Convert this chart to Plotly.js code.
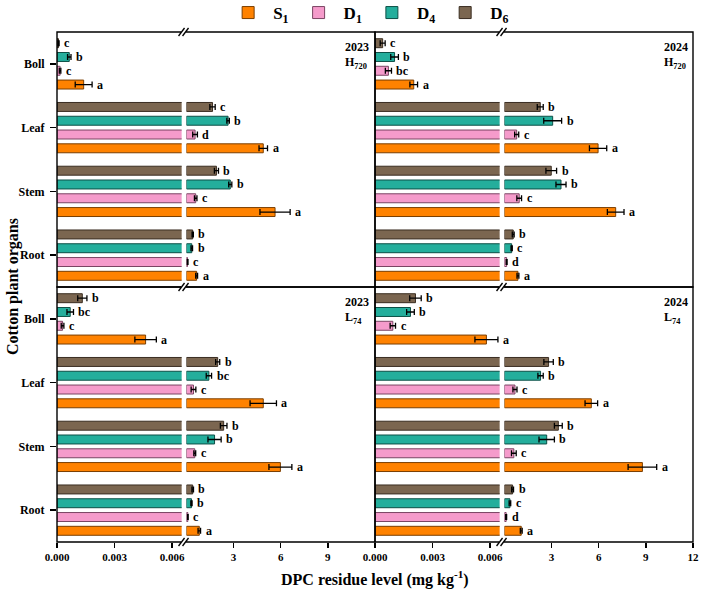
<!DOCTYPE html>
<html>
<head>
<meta charset="utf-8">
<script src="https://cdn.plot.ly/plotly-3.0.1.min.js"></script>
<style>html,body{margin:0;padding:0;background:#fff;}#chart{width:707px;height:595px;}</style>
</head>
<body>
<div id="chart"></div>
<script>
// ---------- data ----------
const organs = ['Root', 'Stem', 'Leaf', 'Boll'];
const seriesNames = ['S<sub>1</sub>', 'D<sub>1</sub>', 'D<sub>4</sub>', 'D<sub>6</sub>'];
const seriesColors = ['#FF8200', '#F59BCB', '#24AE9C', '#7B6650'];
const seriesEdges = ['#7A3E00', '#7A4563', '#0C4F46', '#3A2D21'];

// values in mg/kg, order: Root, Stem, Leaf, Boll
// 2023 H720
const H2023_S1 = [0.65, 5.64, 4.89, 0.00139];
const H2023_D1 = [0.07, 0.59, 0.55, 0.00016];
const H2023_D4 = [0.34, 2.79, 2.65, 0.00064];
const H2023_D6 = [0.40, 1.91, 1.66, 0.00008];
const H2023_S1_err = [0.06, 0.96, 0.27, 0.00044];
const H2023_D1_err = [0.03, 0.08, 0.15, 0.00004];
const H2023_D4_err = [0.05, 0.10, 0.08, 0.00009];
const H2023_D6_err = [0.04, 0.13, 0.17, 0.00003];
const H2023_S1_sig = ['a', 'a', 'a', 'a'];
const H2023_D1_sig = ['c', 'c', 'd', 'c'];
const H2023_D4_sig = ['b', 'b', 'b', 'b'];
const H2023_D6_sig = ['b', 'b', 'c', 'c'];

// 2024 H720
const H2024_S1 = [0.86, 7.08, 5.96, 0.00202];
const H2024_D1 = [0.14, 0.94, 0.78, 0.00070];
const H2024_D4 = [0.46, 3.60, 3.07, 0.00102];
const H2024_D6 = [0.56, 2.98, 2.28, 0.00040];
const H2024_S1_err = [0.06, 0.53, 0.55, 0.00020];
const H2024_D1_err = [0.03, 0.15, 0.13, 0.00016];
const H2024_D4_err = [0.04, 0.32, 0.57, 0.00020];
const H2024_D6_err = [0.06, 0.34, 0.19, 0.00013];
const H2024_S1_sig = ['a', 'a', 'a', 'a'];
const H2024_D1_sig = ['d', 'c', 'c', 'bc'];
const H2024_D4_sig = ['c', 'b', 'b', 'b'];
const H2024_D6_sig = ['b', 'b', 'b', 'c'];

// 2023 L74
const L2023_S1 = [0.82, 5.98, 4.89, 0.00462];
const L2023_D1 = [0.09, 0.53, 0.45, 0.00029];
const L2023_D4 = [0.32, 1.79, 1.43, 0.00069];
const L2023_D6 = [0.40, 2.37, 1.99, 0.00132];
const L2023_S1_err = [0.08, 0.73, 0.84, 0.00056];
const L2023_D1_err = [0.02, 0.06, 0.15, 0.00007];
const L2023_D4_err = [0.04, 0.42, 0.17, 0.00017];
const L2023_D6_err = [0.05, 0.21, 0.13, 0.00024];
const L2023_S1_sig = ['a', 'a', 'a', 'a'];
const L2023_D1_sig = ['c', 'c', 'c', 'c'];
const L2023_D4_sig = ['b', 'b', 'bc', 'bc'];
const L2023_D6_sig = ['b', 'b', 'b', 'b'];

// 2024 L74
const L2024_S1 = [1.07, 8.78, 5.53, 0.00581];
const L2024_D1 = [0.11, 0.60, 0.67, 0.00093];
const L2024_D4 = [0.35, 2.69, 2.30, 0.00185];
const L2024_D6 = [0.52, 3.43, 2.81, 0.00211];
const L2024_S1_err = [0.06, 0.91, 0.40, 0.00060];
const L2024_D1_err = [0.03, 0.15, 0.13, 0.00014];
const L2024_D4_err = [0.05, 0.49, 0.17, 0.00020];
const L2024_D6_err = [0.06, 0.25, 0.30, 0.00030];
const L2024_S1_sig = ['a', 'a', 'a', 'a'];
const L2024_D1_sig = ['d', 'c', 'c', 'c'];
const L2024_D4_sig = ['c', 'b', 'b', 'b'];
const L2024_D6_sig = ['b', 'b', 'b', 'b'];

const lowTicks = [0, 0.003, 0.006];
const lowTickText = ['0.000', '0.003', '0.006'];
const highTicksLeft = [3, 6, 9];
const highTicksRight = [3, 6, 9, 12];

// ---------- layout constants ----------
const BRK = 0.0065;     // end of the lower (broken) segment
const HIGH_MAX = 12;
const BARGAP = 0.135;
const FONT = 'Liberation Serif, Times New Roman, serif';

const panels = [
  {vals: [H2023_S1, H2023_D1, H2023_D4, H2023_D6], errs: [H2023_S1_err, H2023_D1_err, H2023_D4_err, H2023_D6_err],
   sigs: [H2023_S1_sig, H2023_D1_sig, H2023_D4_sig, H2023_D6_sig], xl: 'x', xu: 'x2', y: 'y', year: '2023', cult: 'H<sub>720</sub>'},
  {vals: [H2024_S1, H2024_D1, H2024_D4, H2024_D6], errs: [H2024_S1_err, H2024_D1_err, H2024_D4_err, H2024_D6_err],
   sigs: [H2024_S1_sig, H2024_D1_sig, H2024_D4_sig, H2024_D6_sig], xl: 'x3', xu: 'x4', y: 'y2', year: '2024', cult: 'H<sub>720</sub>'},
  {vals: [L2023_S1, L2023_D1, L2023_D4, L2023_D6], errs: [L2023_S1_err, L2023_D1_err, L2023_D4_err, L2023_D6_err],
   sigs: [L2023_S1_sig, L2023_D1_sig, L2023_D4_sig, L2023_D6_sig], xl: 'x5', xu: 'x6', y: 'y3', year: '2023', cult: 'L<sub>74</sub>'},
  {vals: [L2024_S1, L2024_D1, L2024_D4, L2024_D6], errs: [L2024_S1_err, L2024_D1_err, L2024_D4_err, L2024_D6_err],
   sigs: [L2024_S1_sig, L2024_D1_sig, L2024_D4_sig, L2024_D6_sig], xl: 'x7', xu: 'x8', y: 'y4', year: '2024', cult: 'L<sub>74</sub>'}
];

const organIdx = organs.map((_, i) => i);
const traces = [];
const annotations = [];
const slot = (1 - BARGAP) / seriesNames.length;

panels.forEach((p, pi) => {
  p.vals.forEach((vals, si) => {
    const errs = p.errs[si];
    const base = {
      type: 'bar', orientation: 'h', y: organIdx, name: seriesNames[si],
      marker: {color: seriesColors[si], line: {color: seriesEdges[si], width: 1}},
      yaxis: p.y, hoverinfo: 'skip'
    };
    // lower segment
    traces.push(Object.assign({}, base, {
      x: vals, xaxis: p.xl, legendgroup: 's' + si, showlegend: pi === 0,
      error_x: {type: 'data', array: vals.map((v, k) => v <= BRK ? errs[k] : null), color: '#000', thickness: 1.3, width: 3, visible: true}
    }));
    // upper segment
    traces.push(Object.assign({}, base, {
      x: vals.map(v => v > BRK ? v : null), xaxis: p.xu, legendgroup: 's' + si, showlegend: false,
      error_x: {type: 'data', array: vals.map((v, k) => v > BRK ? errs[k] : null), color: '#000', thickness: 1.3, width: 3, visible: true}
    }));
    vals.forEach((v, k) => {
      annotations.push({
        x: v + errs[k], y: k + (si - 1.5) * slot,
        xref: v > BRK ? p.xu : p.xl, yref: p.y,
        text: p.sigs[si][k], showarrow: false, xanchor: 'left', yanchor: 'middle', xshift: 3,
        font: {family: FONT, size: 12, color: '#000', weight: 'bold'}
      });
    });
  });
});

// ---------- axes ----------
const lowDom = [0, 0.196], highDom = [0.2035, 0.5];
const tickFont = {family: FONT, size: 11, color: '#000', weight: 'bold'};
function xAx(dom, off, range, anchor, bottom, tv, tt) {
  const a = {domain: [dom[0] + off, dom[1] + off], range: range, anchor: anchor, showgrid: false, zeroline: false,
    showline: false, fixedrange: true};
  if (bottom) {
    Object.assign(a, {ticks: 'outside', ticklen: 5, tickwidth: 1.3, tickcolor: '#000', tickvals: tv, ticktext: tt,
      tickfont: tickFont, showticklabels: true});
  } else {
    Object.assign(a, {ticks: '', showticklabels: false});
  }
  return a;
}
function yAx(dom, anchor, left) {
  const a = {domain: dom, anchor: anchor, range: [-0.5, organs.length - 0.5], showgrid: false, zeroline: false,
    showline: false, fixedrange: true, tickvals: organIdx, ticktext: organs};
  if (left) {
    Object.assign(a, {ticks: 'outside', ticklen: 6, tickwidth: 1.3, tickcolor: '#000',
      tickfont: {family: FONT, size: 12, color: '#000', weight: 'bold'}, ticklabelstandoff: 3});
  } else {
    Object.assign(a, {ticks: '', showticklabels: false});
  }
  return a;
}

// ---------- frames & break marks ----------
const PX = 1 / 636.5, PY = 1 / 510;
const shapes = [];
[[0, 0.5], [0.5, 1]].forEach(xd => [[0, 0.5], [0.5, 1]].forEach(yd => {
  shapes.push({type: 'rect', xref: 'paper', yref: 'paper', x0: xd[0], x1: xd[1], y0: yd[0], y1: yd[1],
    line: {color: '#000', width: 1.4}, fillcolor: 'rgba(0,0,0,0)', layer: 'above'});
}));
[(lowDom[1] + highDom[0]) / 2, 0.5 + (lowDom[1] + highDom[0]) / 2].forEach(xc => [0, 0.5, 1].forEach(yc => {
  shapes.push({type: 'line', xref: 'paper', yref: 'paper', x0: xc - 3 * PX, x1: xc + 2 * PX, y0: yc, y1: yc,
    line: {color: '#fff', width: 3}, layer: 'above'});
  [-2.5, 1.5].forEach(d => shapes.push({type: 'line', xref: 'paper', yref: 'paper',
    x0: xc + (d - 3) * PX, x1: xc + (d + 3) * PX, y0: yc - 4 * PY, y1: yc + 4 * PY,
    line: {color: '#000', width: 1.3}, layer: 'above'}));
}));

// ---------- panel labels ----------
const labelPos = [[0.4498, 1], [0.951, 1], [0.4498, 0.5], [0.951, 0.5]];
panels.forEach((p, i) => {
  const [lx, ly] = labelPos[i];
  annotations.push({xref: 'paper', yref: 'paper', x: lx, y: ly - 15 * PY, text: p.year, showarrow: false,
    xanchor: 'left', yanchor: 'middle', font: {family: FONT, size: 12, color: '#000', weight: 'bold'}});
  annotations.push({xref: 'paper', yref: 'paper', x: lx, y: ly - 31 * PY, text: p.cult, showarrow: false,
    xanchor: 'left', yanchor: 'middle', font: {family: FONT, size: 12, color: '#000', weight: 'bold'}});
});
// axis titles
annotations.push({xref: 'paper', yref: 'paper', x: 0.5, y: -36 * PY, text: 'DPC residue level (mg kg<sup>-1</sup>)',
  showarrow: false, xanchor: 'center', yanchor: 'middle', font: {family: FONT, size: 16, color: '#000', weight: 'bold'}});
annotations.push({xref: 'paper', yref: 'paper', x: -44 * PX, y: 0.5, text: 'Cotton plant organs', textangle: -90,
  showarrow: false, xanchor: 'center', yanchor: 'middle', font: {family: FONT, size: 16, color: '#000', weight: 'bold'}});

const layout = {
  width: 707, height: 595,
  margin: {l: 57, r: 13.5, t: 32, b: 53, autoexpand: false},
  paper_bgcolor: '#fff', plot_bgcolor: '#fff',
  barmode: 'group', bargap: BARGAP, bargroupgap: 0.35,
  showlegend: true,
  legend: {orientation: 'h', x: 0.49, xanchor: 'center', y: 1 + 19 * PY, yanchor: 'middle',
    font: {family: FONT, size: 17, color: '#000', weight: 'bold'}, itemwidth: 40, traceorder: 'normal',
    bgcolor: 'rgba(0,0,0,0)'},
  xaxis: xAx(lowDom, 0, [0, BRK], 'y', false),
  xaxis2: xAx(highDom, 0, [0, HIGH_MAX], 'y', false),
  xaxis3: xAx(lowDom, 0.5, [0, BRK], 'y2', false),
  xaxis4: xAx(highDom, 0.5, [0, HIGH_MAX], 'y2', false),
  xaxis5: xAx(lowDom, 0, [0, BRK], 'y3', true, lowTicks, lowTickText),
  xaxis6: xAx(highDom, 0, [0, HIGH_MAX], 'y3', true, highTicksLeft, highTicksLeft.map(String)),
  xaxis7: xAx(lowDom, 0.5, [0, BRK], 'y4', true, lowTicks, lowTickText),
  xaxis8: xAx(highDom, 0.5, [0, HIGH_MAX], 'y4', true, highTicksRight, highTicksRight.map(String)),
  yaxis: yAx([0.5, 1], 'x', true),
  yaxis2: yAx([0.5, 1], 'x3', false),
  yaxis3: yAx([0, 0.5], 'x5', true),
  yaxis4: yAx([0, 0.5], 'x7', false),
  shapes: shapes,
  annotations: annotations
};

Plotly.newPlot('chart', traces, layout, {displayModeBar: false, staticPlot: true});
</script>
</body>
</html>
